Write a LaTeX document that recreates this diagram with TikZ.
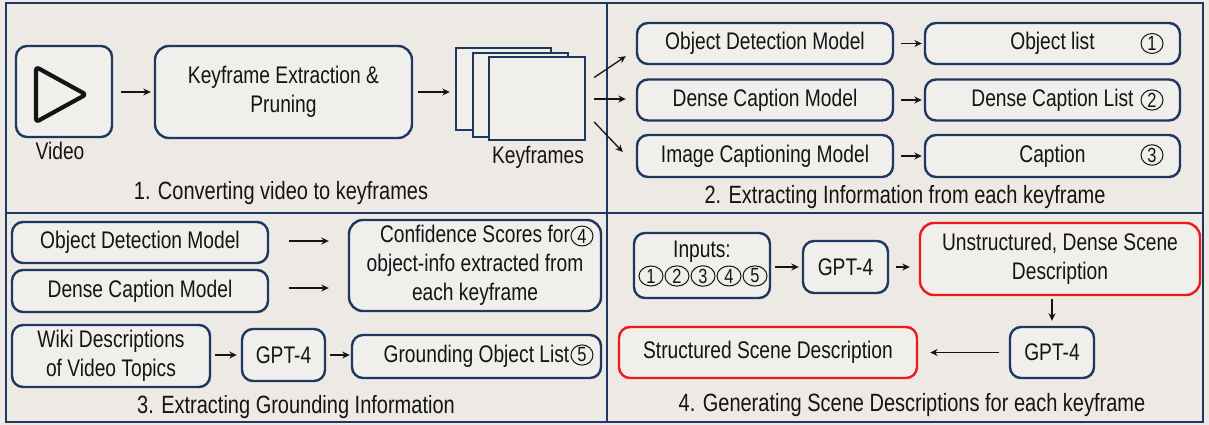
\documentclass[tikz,border=0pt]{standalone}
\usepackage{fontspec}
\setmainfont{Liberation Sans}[FakeStretch=0.8]
\usetikzlibrary{arrows.meta,shapes.geometric,calc}
\definecolor{navy}{RGB}{31,56,96}
\definecolor{bg}{RGB}{237,233,228}
\definecolor{boxfill}{RGB}{241,239,236}
\definecolor{ink}{RGB}{20,20,20}
\definecolor{redb}{RGB}{240,25,25}
\begin{document}
\begin{tikzpicture}[x=1pt,y=-1pt,
 box/.style={draw=navy, line width=2.4pt, fill=boxfill, rounded corners=11pt, inner sep=0pt, align=center, text=ink, font=\fontsize{24}{29}\selectfont},
 redbox/.style={box, draw=redb},
 frame/.style={draw=navy, line width=2.4pt, fill=boxfill, inner sep=0pt},
 lbl/.style={text=ink, font=\fontsize{24}{29}\selectfont, inner sep=0pt, align=center},
 ttl/.style={text=ink, font=\fontsize{25}{29}\selectfont, inner sep=0pt},
 arr/.style={draw=ink, line width=1.3pt, -{Stealth[length=7.5pt,width=7pt]}},
 cnum/.style={ellipse, draw=ink, line width=1pt, inner sep=0pt, minimum width=22pt, minimum height=19pt, text=ink, font=\fontsize{20.5}{18}\selectfont},
]
\useasboundingbox (0,0) rectangle (1209,425);
\fill[bg] (0,0) rectangle (1209,425);
\draw[navy, line width=2pt] (6,3) rectangle (1203,422);
\draw[navy, line width=2pt] (607,3) -- (607,422);
\draw[navy, line width=2pt] (6,213) -- (1203,213);

% ---------- panel 1
\node[box, minimum width=96, minimum height=91] (vid) at (64,91.5) {};
\draw[ink, line width=4.2pt, line join=round, rounded corners=3pt] (36,67) -- (86,94.5) -- (36,122) -- cycle;
\node[lbl] (vidl) at (60,151) {Video};
\node[box, minimum width=257, minimum height=92, rounded corners=14pt] (kfe) at (283.5,92) {Keyframe Extraction \&\\Pruning};
\node[frame, minimum width=95, minimum height=82] (k1) at (503.5,89) {};
\node[frame, minimum width=95, minimum height=84] (k2) at (520.5,95) {};
\node[frame, minimum width=96, minimum height=83] (k3) at (537,98.5) {};
\node[lbl] (kfl) at (538,157) {Keyframes};
\node[ttl] (t1) at (281,193) {1. Converting video to keyframes};
\draw[arr, shorten <=8pt, shorten >=3pt] (vid.east |- kfe.east) -- (kfe.west);
\draw[arr, shorten <=5pt, shorten >=5pt] (kfe.east) -- (kfe.east -| k1.west);

% ---------- panel 2
\node[box, minimum width=256, minimum height=41] (od1) at (765,43.5) {Object Detection Model};
\node[box, minimum width=256, minimum height=41] (dc1) at (765,100) {Dense Caption Model};
\node[box, minimum width=256, minimum height=42] (ic1) at (765,156) {Image Captioning Model};
\node[box, minimum width=255, minimum height=41] (ol) at (1052.5,43.5) {Object list};
\node[box, minimum width=255, minimum height=41] (dcl) at (1052.5,100) {Dense Caption List};
\node[box, minimum width=255, minimum height=42] (cap) at (1052.5,156) {Caption};
\node[cnum] (c1) at (1152,43.5) {1};
\node[cnum] (c2) at (1152,100) {2};
\node[cnum] (c3) at (1152,155) {3};
\node[ttl] (t2) at (905,197) {2. Extracting Information from each keyframe};
\draw[arr, shorten <=7pt, shorten >=2pt] (od1.east) -- (ol.west);
\draw[arr, shorten <=7pt, shorten >=2pt] (dc1.east) -- (dcl.west);
\draw[arr, shorten <=7pt, shorten >=2pt] (ic1.east) -- (cap.west);
\coordinate (s1) at ($(k3.east)+(8,-21)$);
\coordinate (s2) at ($(k3.east)+(8,0.5)$);
\coordinate (s3) at ($(k3.east)+(8,23.5)$);
\draw[arr] (s1) -- ($(od1.south west)+(-10,-9)$);
\draw[arr] (s2) -- ($(dc1.west)+(-10,-1)$);
\draw[arr] (s3) -- ($(ic1.west)+(-13,-4)$);

% ---------- panel 3
\node[box, minimum width=256, minimum height=41] (od2) at (140,242.5) {Object Detection Model};
\node[box, minimum width=256, minimum height=42] (dc2) at (140,291) {Dense Caption Model};
\node[box, minimum width=252, minimum height=91, rounded corners=14pt] (conf) at (475,265.5) {Confidence Scores for\\object-info extracted from\\each keyframe};
\node[cnum] (c4) at (582,236) {4};
\node[box, minimum width=198, minimum height=62] (wiki) at (111,356) {Wiki Descriptions\\of Video Topics};
\node[box, minimum width=83, minimum height=52] (g3) at (283.5,355) {GPT-4};
\node[box, minimum width=249, minimum height=43] (grd) at (476.5,356.5) {Grounding Object List};
\node[cnum] (c5) at (582,355) {5};
\node[ttl] (t3) at (296,407) {3. Extracting Grounding Information};
\draw[arr] ($(od2.east)+(20,-1.5)$) -- ($(od2.east -| conf.west)+(-19,-1.5)$);
\draw[arr] ($(dc2.east)+(20,-3)$) -- ($(dc2.east -| conf.west)+(-19,-3)$);
\draw[arr, shorten <=4pt, shorten >=4pt] (wiki.east |- g3.west) -- (g3.west);
\draw[arr, shorten <=4pt, shorten >=1pt] (g3.east) -- (g3.east -| grd.west);

% ---------- panel 4
\node[box, minimum width=136, minimum height=65] (inp) at (702,265.5) {};
\node[lbl] (inpl) at (702,252) {Inputs:};
\node[cnum, minimum width=24pt, minimum height=20pt] (i1) at (651,276) {1};
\node[cnum, minimum width=24pt, minimum height=20pt] (i2) at (677,276) {2};
\node[cnum, minimum width=24pt, minimum height=20pt] (i3) at (703,276) {3};
\node[cnum, minimum width=24pt, minimum height=20pt] (i4) at (729,276) {4};
\node[cnum, minimum width=24pt, minimum height=20pt] (i5) at (755,276) {5};
\node[box, minimum width=85, minimum height=52] (g4a) at (845.5,267) {GPT-4};
\node[redbox, minimum width=280, minimum height=72, rounded corners=14pt] (unst) at (1060,259) {Unstructured, Dense Scene\\Description};
\node[box, minimum width=84, minimum height=51] (g4b) at (1052,352.5) {GPT-4};
\node[redbox, minimum width=298, minimum height=51] (strc) at (768,352.5) {Structured Scene Description};
\node[ttl] (t4) at (912,405) {4. Generating Scene Descriptions for each keyframe};
\draw[arr, shorten <=4pt, shorten >=3pt] (inp.east |- g4a.west) -- (g4a.west);
\draw[arr, shorten <=7pt, shorten >=9pt] (g4a.east) -- (g4a.east -| unst.west);
\draw[arr, shorten <=3pt, shorten >=5pt] (g4b.north |- unst.south) -- (g4b.north);
\draw[arr, shorten <=10pt, shorten >=12pt] (g4b.west) -- (strc.east);
\end{tikzpicture}
\end{document}
